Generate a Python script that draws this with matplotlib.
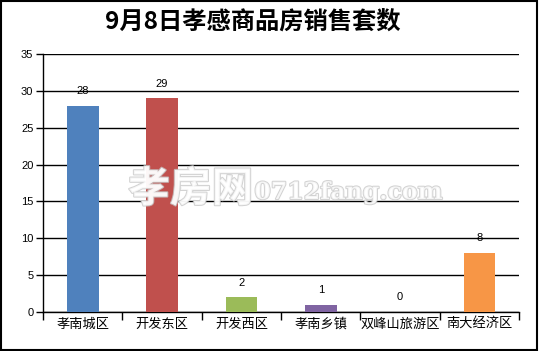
import matplotlib.pyplot as plt
import matplotlib.patheffects as pe
from matplotlib.patches import Rectangle

plt.rcParams['font.family'] = ['Noto Sans CJK SC', 'DejaVu Sans']

districts = ['孝南城区', '开发东区', '开发西区', '孝南乡镇', '双峰山旅游区', '南大经济区']
sales = [28, 29, 2, 1, 0, 8]
colors = ['#4F81BD', '#C0504D', '#9BBB59', '#8064A2', '#4BACC6', '#F79646']
yticks = [0, 5, 10, 15, 20, 25, 30, 35]

fig = plt.figure(figsize=(5.39, 3.51), dpi=100)
ax = fig.add_axes([0.080, 0.111, 0.883, 0.735])

x = list(range(len(districts)))
ax.bar(x, sales, width=0.4, color=colors, zorder=3)
for xi, v in zip(x, sales):
    ax.annotate(str(v), (xi, v), xytext=(0, 7), textcoords='offset points',
                ha='center', va='bottom', fontsize=8, family='Liberation Sans')

ax.set_xlim(-0.5, len(districts) - 0.5)
ax.set_ylim(0, 35)
ax.set_yticks(yticks)
ax.set_yticklabels([str(t) for t in yticks], fontsize=8, family='Liberation Sans')
ax.yaxis.grid(True, color='black', linewidth=1, zorder=0)
ax.set_axisbelow(True)

ax.set_xticks([i + 0.5 for i in range(-1, len(districts))])
ax.set_xticklabels([])
ax.set_xticks(x, minor=True)
ax.set_xticklabels(districts, minor=True, fontsize=9.5)
ax.tick_params(axis='x', which='minor', length=0, pad=4)
ax.tick_params(axis='x', which='major', length=6, width=1, color='black')
ax.tick_params(axis='y', length=5, width=1, color='black', pad=2)

for s in ['top', 'right']:
    ax.spines[s].set_visible(False)
for s in ['left', 'bottom']:
    ax.spines[s].set_linewidth(1)

fig.text(0.468, 0.937, '9月8日孝感商品房销售套数', ha='center', va='center',
         fontsize=17.5, fontweight='bold')

# watermark
fig.text(0.238, 0.46, '孝房网', fontsize=30, fontweight='bold', color='white',
         alpha=0.8, ha='left', va='center',
         path_effects=[pe.withStroke(linewidth=1.5, foreground='#c8c8c8')])
fig.text(0.472, 0.453, '0712fang.com', fontsize=17, family='DejaVu Serif',
         fontweight='bold', color='white', alpha=0.8, ha='left', va='center',
         path_effects=[pe.withStroke(linewidth=1.5, foreground='#c8c8c8')])

fig.patches.append(Rectangle((0.002, 0.004), 0.994, 0.992, transform=fig.transFigure,
                             fill=False, edgecolor='black', linewidth=1.5))

fig.savefig('out.png', dpi=100)
